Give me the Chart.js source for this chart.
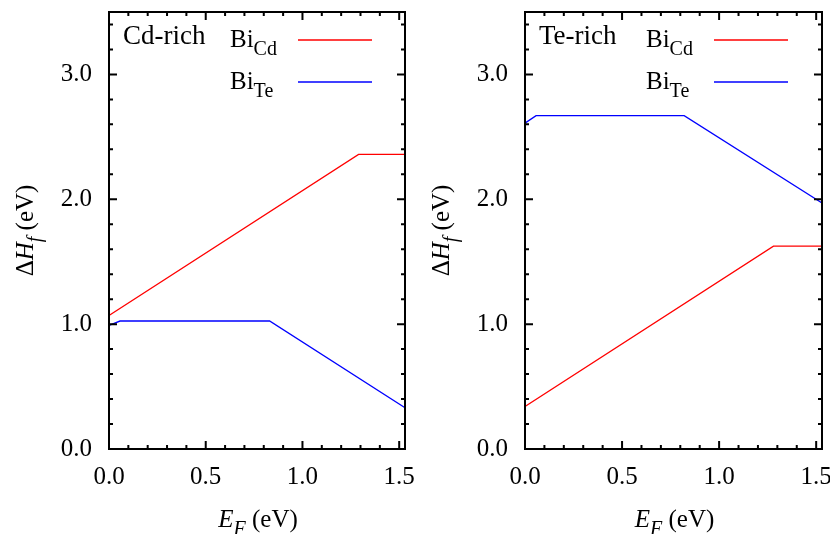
<!DOCTYPE html>
<html><head><meta charset="utf-8">
<script src="https://cdn.jsdelivr.net/npm/chart.js@4.4.0/dist/chart.umd.min.js"></script>
<style>
body{margin:0;background:#fff;width:830px;height:534px;overflow:hidden;position:relative}
canvas{position:absolute;top:0}
</style></head><body>
<canvas id="left" width="415" height="534" style="left:0"></canvas>
<canvas id="right" width="415" height="534" style="left:415px"></canvas>
<script>
var panelNames = ['Cd-rich', 'Te-rich'];
var seriesNames = ['Bi', 'Bi'];
var seriesSubs = ['Cd', 'Te'];
var seriesColors = ['#ff0000', '#0000ff'];
var xTicks = [0, 0.5, 1.0, 1.5];
var yTicks = [0, 1, 2, 3];

// Fermi level (eV) and formation energy (eV) for each line
var cdRichBiCdX = [0, 1.29, 1.53];
var cdRichBiCdY = [1.07, 2.36, 2.36];
var cdRichBiTeX = [0, 0.057, 0.83, 1.53];
var cdRichBiTeY = [0.99, 1.025, 1.025, 0.33];
var teRichBiCdX = [0, 1.28, 1.53];
var teRichBiCdY = [0.34, 1.625, 1.625];
var teRichBiTeX = [0, 0.057, 0.82, 1.53];
var teRichBiTeY = [2.61, 2.67, 2.67, 1.97];

var FONT = '"Liberation Serif", "Times New Roman", serif';

function pts(xs, ys) {
	var out = [];
	for (var i = 0; i < xs.length; i++) out.push({x: xs[i], y: ys[i]});
	return out;
}

function fontOf(p, size) {
	return (p.it ? 'italic ' : '') + (p.sub ? Math.round(size * 0.8) : size) + 'px ' + FONT;
}

// draws a list of text parts, subscripts dropped a bit
function drawParts(ctx, parts, x, y, size, center) {
	var w = 0, i;
	for (i = 0; i < parts.length; i++) {
		ctx.font = fontOf(parts[i], size);
		w += ctx.measureText(parts[i].t).width;
	}
	var cx = center ? x - w / 2 : x;
	ctx.textBaseline = 'alphabetic';
	ctx.textAlign = 'left';
	for (i = 0; i < parts.length; i++) {
		ctx.font = fontOf(parts[i], size);
		ctx.fillText(parts[i].t, cx, parts[i].sub ? y + size * 0.3 : y);
		cx += ctx.measureText(parts[i].t).width;
	}
}

var framePlugin = {
	id: 'frame',
	afterDatasetsDraw: function(chart) {
		var ctx = chart.ctx, a = chart.chartArea, xs = chart.scales.x, ys = chart.scales.y;
		var idx = chart.options.plugins.frame.index;
		var v, px, len, i;
		ctx.save();
		ctx.strokeStyle = '#000';
		ctx.lineWidth = 2;
		ctx.beginPath();
		for (i = 0; i <= 15; i++) {
			v = i / 10;
			px = xs.getPixelForValue(v);
			len = (i % 5 == 0) ? 8 : 4;
			ctx.moveTo(px, a.bottom); ctx.lineTo(px, a.bottom - len);
			ctx.moveTo(px, a.top); ctx.lineTo(px, a.top + len);
		}
		for (i = 0; i <= 17; i++) {
			v = i * 0.2;
			px = ys.getPixelForValue(v);
			len = (i % 5 == 0) ? 8 : 4;
			ctx.moveTo(a.left, px); ctx.lineTo(a.left + len, px);
			ctx.moveTo(a.right, px); ctx.lineTo(a.right - len, px);
		}
		ctx.stroke();
		ctx.strokeRect(a.left, a.top, a.right - a.left, a.bottom - a.top);

		// panel label and legend
		ctx.fillStyle = '#000';
		drawParts(ctx, [{t: panelNames[idx]}], a.left + 14, 44, 27, false);
		for (i = 0; i < 2; i++) {
			var yy = 47 + i * 42;
			drawParts(ctx, [{t: seriesNames[i]}, {t: seriesSubs[i], sub: true}], a.left + 121, yy, 25, false);
			ctx.strokeStyle = seriesColors[i];
			ctx.lineWidth = 1.3;
			ctx.beginPath();
			ctx.moveTo(a.left + 189, yy - 7);
			ctx.lineTo(a.left + 263, yy - 7);
			ctx.stroke();
		}

		// axis titles
		ctx.fillStyle = '#000';
		drawParts(ctx, [{t: 'E', it: true}, {t: 'F', it: true, sub: true}, {t: ' (eV)'}], (a.left + a.right) / 2 + 1, 527, 25, true);
		ctx.translate(a.left - 76, (a.top + a.bottom) / 2);
		ctx.rotate(-Math.PI / 2);
		drawParts(ctx, [{t: '\u0394'}, {t: 'H', it: true}, {t: 'f', it: true, sub: true}, {t: ' (eV)'}], 0, 0, 25, true);
		ctx.restore();
	}
};

function makeChart(id, idx, red, blue, yWidth, padRight) {
	return new Chart(document.getElementById(id), {
		type: 'line',
		data: {
			datasets: [
				{label: seriesNames[0] + seriesSubs[0], data: red, borderColor: seriesColors[0], borderWidth: 1.3, pointRadius: 0, tension: 0},
				{label: seriesNames[1] + seriesSubs[1], data: blue, borderColor: seriesColors[1], borderWidth: 1.3, pointRadius: 0, tension: 0}
			]
		},
		options: {
			responsive: false,
			animation: false,
			devicePixelRatio: 1,
			layout: {padding: {top: 12, right: padRight, left: 0, bottom: 0}},
			plugins: {legend: {display: false}, tooltip: {enabled: false}, frame: {index: idx}},
			scales: {
				x: {
					type: 'linear', min: 0, max: 1.53,
					grid: {display: false, drawTicks: false},
					border: {display: false},
					afterBuildTicks: function(s) { s.ticks = xTicks.map(function(v) { return {value: v}; }); },
					afterFit: function(s) { s.height = 85; s.paddingLeft = 0; s.paddingRight = 0; },
					ticks: {color: '#000', padding: 13, maxRotation: 0, autoSkip: false, font: {family: FONT, size: 25},
						callback: function(v) { return v.toFixed(1); }}
				},
				y: {
					type: 'linear', min: 0, max: 3.5,
					grid: {display: false, drawTicks: false},
					border: {display: false},
					afterBuildTicks: function(s) { s.ticks = yTicks.map(function(v) { return {value: v}; }); },
					afterFit: function(s) { s.width = yWidth; s.paddingTop = 0; s.paddingBottom = 0; },
					ticks: {color: '#000', padding: 17, autoSkip: false, font: {family: FONT, size: 25},
						callback: function(v) { return v.toFixed(1); }}
				}
			}
		},
		plugins: [framePlugin]
	});
}

makeChart('left', 0, pts(cdRichBiCdX, cdRichBiCdY), pts(cdRichBiTeX, cdRichBiTeY), 109, 10);
makeChart('right', 1, pts(teRichBiCdX, teRichBiCdY), pts(teRichBiTeX, teRichBiTeY), 110, 8);
</script>
</body></html>
